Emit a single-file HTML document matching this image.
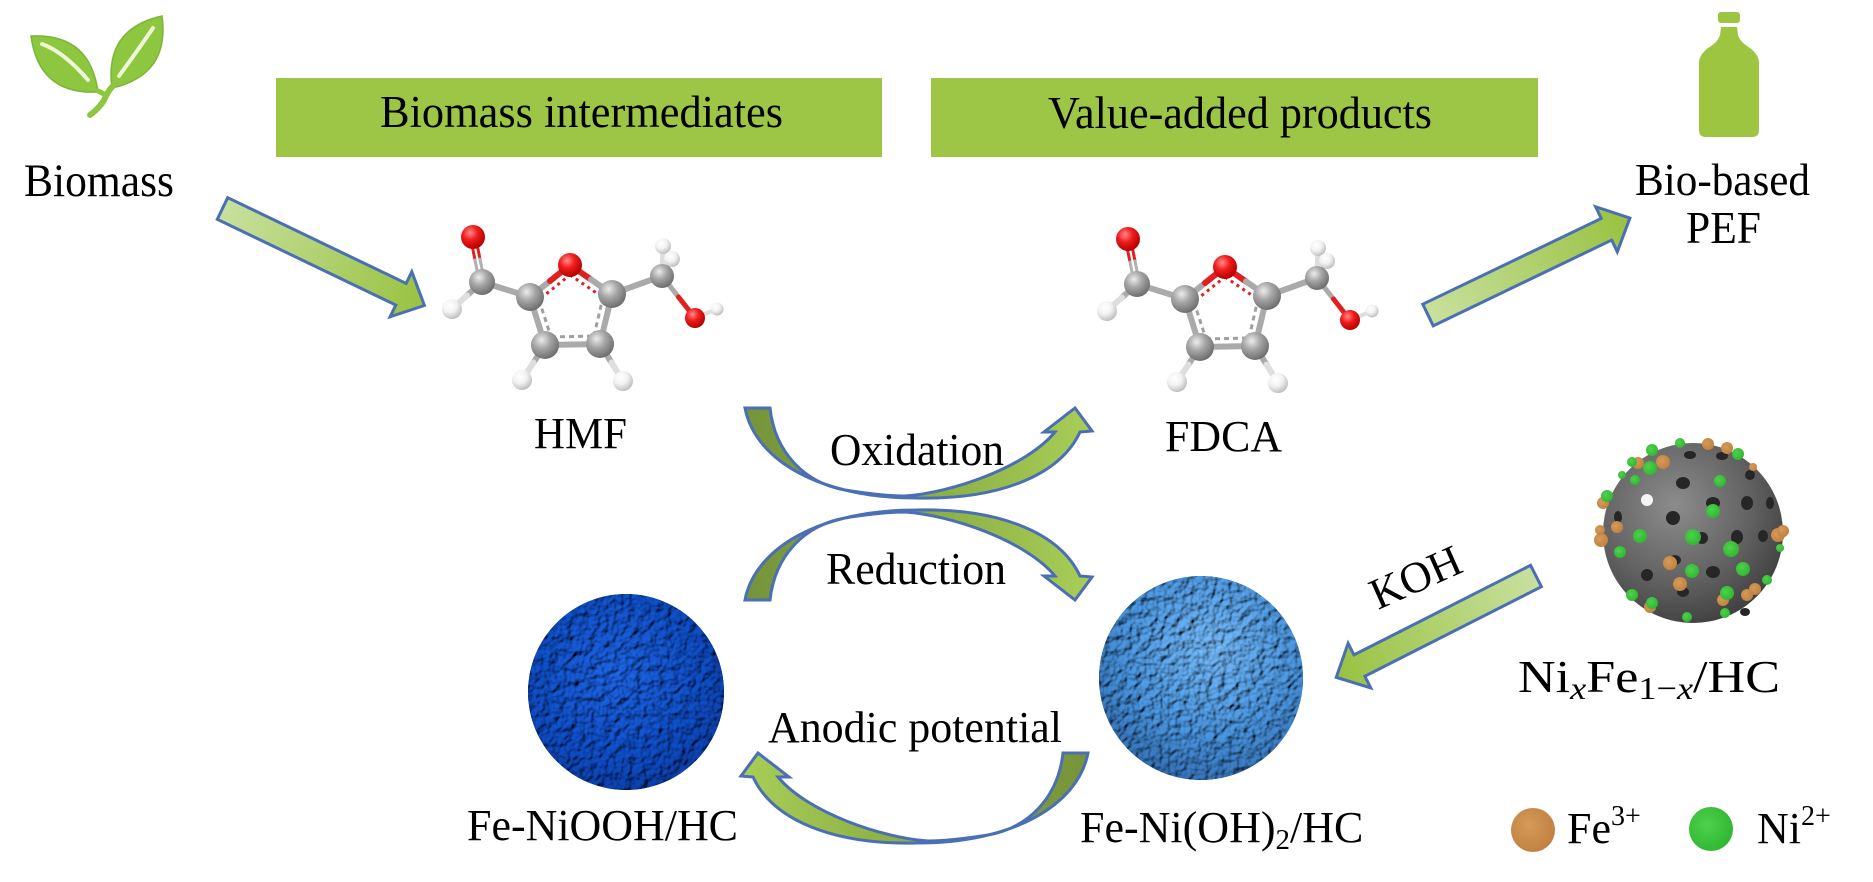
<!DOCTYPE html>
<html>
<head>
<meta charset="utf-8">
<style>
  html, body { margin: 0; padding: 0; background: #ffffff; }
  svg { display: block; }
  text { font-family: "Liberation Serif", "Times New Roman", serif; fill: #000; }
</style>
</head>
<body>
<svg width="1873" height="882" viewBox="0 0 1873 882" xmlns="http://www.w3.org/2000/svg">
  <defs>
    <linearGradient id="gStraight" x1="0" y1="0" x2="1" y2="0">
      <stop offset="0" stop-color="#c8e09e"/>
      <stop offset="1" stop-color="#98c240"/>
    </linearGradient>
    <linearGradient id="gCurve" x1="0" y1="0" x2="1" y2="0">
      <stop offset="0" stop-color="#76933a"/>
      <stop offset="0.45" stop-color="#86a83f"/>
      <stop offset="1" stop-color="#a8ce58"/>
    </linearGradient>
    <radialGradient id="atC" cx="0.38" cy="0.32" r="0.7">
      <stop offset="0" stop-color="#ececec"/>
      <stop offset="0.45" stop-color="#a6a6a6"/>
      <stop offset="1" stop-color="#6c6c6c"/>
    </radialGradient>
    <radialGradient id="atO" cx="0.38" cy="0.32" r="0.7">
      <stop offset="0" stop-color="#ff8a8a"/>
      <stop offset="0.45" stop-color="#f01c1c"/>
      <stop offset="1" stop-color="#b00000"/>
    </radialGradient>
    <radialGradient id="atH" cx="0.38" cy="0.32" r="0.7">
      <stop offset="0" stop-color="#ffffff"/>
      <stop offset="0.5" stop-color="#f2f2f2"/>
      <stop offset="1" stop-color="#bdbdbd"/>
    </radialGradient>
    <radialGradient id="sDark" cx="0.45" cy="0.4" r="0.65">
      <stop offset="0" stop-color="#1a5bd0"/>
      <stop offset="0.7" stop-color="#0c46b4"/>
      <stop offset="1" stop-color="#083696"/>
    </radialGradient>
    <radialGradient id="sLight" cx="0.55" cy="0.35" r="0.7">
      <stop offset="0" stop-color="#6aa9e2"/>
      <stop offset="0.6" stop-color="#4388cc"/>
      <stop offset="1" stop-color="#2c62a0"/>
    </radialGradient>
    <radialGradient id="sGray" cx="0.4" cy="0.35" r="0.7">
      <stop offset="0" stop-color="#8c8c8c"/>
      <stop offset="0.6" stop-color="#626262"/>
      <stop offset="1" stop-color="#3e3e3e"/>
    </radialGradient>
    <radialGradient id="dotFe" cx="0.4" cy="0.4" r="0.65">
      <stop offset="0" stop-color="#d79a58"/>
      <stop offset="1" stop-color="#bf8040"/>
    </radialGradient>
    <radialGradient id="dotNi" cx="0.4" cy="0.4" r="0.65">
      <stop offset="0" stop-color="#4fd24f"/>
      <stop offset="1" stop-color="#2fb52f"/>
    </radialGradient>
    <filter id="bump" x="-5%" y="-5%" width="110%" height="110%">
      <feTurbulence type="fractalNoise" baseFrequency="0.13" numOctaves="2" seed="7" result="noise"/>
      <feDiffuseLighting in="noise" lighting-color="#ffffff" surfaceScale="4" result="light">
        <feDistantLight azimuth="225" elevation="50"/>
      </feDiffuseLighting>
      <feComposite in="light" in2="SourceGraphic" operator="arithmetic" k1="1.3" k2="0" k3="0" k4="0"/>
    </filter>
  </defs>

  <!-- Leaf icon -->
  <g>
    <path d="M98,92 Q90,33 31,36 Q39,95 98,92 Z" fill="#8dc63f" stroke="#7db538" stroke-width="1.5"/>
    <path d="M112,88 Q170,75 162,16 Q104,29 112,88 Z" fill="#8dc63f" stroke="#7db538" stroke-width="1.5"/>
    <path d="M88,80 Q64,52 42,44" fill="none" stroke="#eef7d6" stroke-width="4" stroke-linecap="round"/>
    <path d="M119,76 Q138,50 153,28" fill="none" stroke="#eef7d6" stroke-width="4" stroke-linecap="round"/>
    <path d="M90,115 Q102,106 106,96 Q109,90 112,87" fill="none" stroke="#8dc63f" stroke-width="6" stroke-linecap="round"/>
    <path d="M106,96 Q103,93 98,91" fill="none" stroke="#8dc63f" stroke-width="5" stroke-linecap="round"/>
  </g>

  <!-- Bottle icon -->
  <g fill="#9dc540">
    <rect x="1718" y="12" width="22" height="11" rx="3"/>
    <path d="M1721,27 L1737,27 L1738,35 Q1740,42 1750,48 Q1759,55 1759,63 L1759,130 Q1759,137 1752,137 L1706,137 Q1699,137 1699,130 L1699,63 Q1699,55 1708,48 Q1718,42 1720,35 Z"/>
  </g>

  <!-- Header boxes -->
  <rect x="276" y="78" width="606" height="79" fill="#9ec646"/>
  <rect x="931" y="78" width="607" height="79" fill="#9ec646"/>
  <text x="380" y="127" font-size="45" textLength="403" lengthAdjust="spacingAndGlyphs">Biomass intermediates</text>
  <text x="1048" y="128" font-size="45" textLength="384" lengthAdjust="spacingAndGlyphs">Value-added products</text>

  <!-- Labels -->
  <text x="24" y="196" font-size="47" textLength="150" lengthAdjust="spacingAndGlyphs">Biomass</text>
  <text x="1635" y="195" font-size="45" textLength="175" lengthAdjust="spacingAndGlyphs">Bio-based</text>
  <text x="1686" y="243" font-size="45" textLength="75" lengthAdjust="spacingAndGlyphs">PEF</text>
  <text x="534" y="448" font-size="44" textLength="93" lengthAdjust="spacingAndGlyphs">HMF</text>
  <text x="1165" y="451" font-size="44" textLength="117" lengthAdjust="spacingAndGlyphs">FDCA</text>
  <text x="830" y="465" font-size="45" textLength="174" lengthAdjust="spacingAndGlyphs">Oxidation</text>
  <text x="826" y="584" font-size="45" textLength="180" lengthAdjust="spacingAndGlyphs">Reduction</text>
  <text x="768" y="742" font-size="44" textLength="294" lengthAdjust="spacingAndGlyphs">Anodic potential</text>
  <text x="467" y="840" font-size="44" textLength="271" lengthAdjust="spacingAndGlyphs">Fe-NiOOH/HC</text>
  <text x="1080" y="842" font-size="44">Fe-Ni(OH)<tspan font-size="29" dy="7">2</tspan><tspan dy="-7">/HC</tspan></text>
  <text x="1518" y="692" font-size="46" textLength="262" lengthAdjust="spacingAndGlyphs">Ni<tspan font-size="32" dy="7" font-style="italic">x</tspan><tspan dy="-7">Fe</tspan><tspan font-size="32" dy="7">1−<tspan font-style="italic">x</tspan></tspan><tspan dy="-7">/HC</tspan></text>
  <text x="0" y="0" font-size="44" transform="translate(1378,610) rotate(-24)">KOH</text>

  <!-- Legend -->
  <circle cx="1533" cy="830" r="22" fill="url(#dotFe)"/>
  <text x="1567" y="843" font-size="44">Fe<tspan font-size="28" dy="-18">3+</tspan></text>
  <circle cx="1711" cy="829" r="22" fill="url(#dotNi)"/>
  <text x="1757" y="843" font-size="44">Ni<tspan font-size="28" dy="-18">2+</tspan></text>

  <!-- Straight arrows -->
  <g stroke="#4a6fb5" stroke-width="3" stroke-linejoin="miter" fill="url(#gStraight)">
    <polygon points="0,-12 198,-12 198,-25 224,0 198,25 198,12 0,12" transform="translate(222.5,208.5) rotate(25.66)"/>
    <polygon points="0,-12 198,-12 198,-25 224,0 198,25 198,12 0,12" transform="translate(1428,315) rotate(-25.66)"/>
    <polygon points="0,-12 198,-12 198,-25 224,0 198,25 198,12 0,12" transform="translate(1536,576) rotate(153.1)"/>
  </g>

  <!-- Curved arrows -->
  <g stroke="#4a6fb5" stroke-width="3" fill="url(#gCurve)" stroke-linejoin="miter">
    <path transform="translate(745,408)" d="M0,0 L25,0 C30,45 60,75 100,82 C125,86 145,88 160,88 C205,85 280,60 310,24 L299,24 L330,0 L347,23 L335,24 C315,67 255,92 171,90 C75,90 10,52 0,0 Z"/>
    <path transform="translate(745,600) scale(1,-1)" d="M0,0 L25,0 C30,45 60,75 100,82 C125,86 145,88 160,88 C205,85 280,60 310,24 L299,24 L330,0 L347,23 L335,24 C315,67 255,92 171,90 C75,90 10,52 0,0 Z"/>
    <path transform="translate(1088,753) scale(-1,1)" d="M0,0 L25,0 C30,45 60,75 100,82 C125,86 145,88 160,88 C205,85 280,60 310,24 L299,24 L330,0 L347,23 L335,24 C315,67 255,92 171,90 C75,90 10,52 0,0 Z"/>
  </g>

  <!-- Molecule (HMF) -->
  <g id="mol">
    <g stroke-linecap="round" fill="none">
      <line x1="470.5" y1="237.5" x2="475" y2="260" stroke="#e02020" stroke-width="3"/>
      <line x1="475" y1="260" x2="479.5" y2="282.5" stroke="#b0b0b0" stroke-width="3"/>
      <line x1="475.5" y1="236.5" x2="480" y2="259" stroke="#e02020" stroke-width="3"/>
      <line x1="480" y1="259" x2="484.5" y2="281.5" stroke="#b0b0b0" stroke-width="3"/>
      <line x1="482" y1="282" x2="467" y2="295.5" stroke="#aaaaaa" stroke-width="6"/>
      <line x1="467" y1="295.5" x2="452" y2="309" stroke="#dedede" stroke-width="6"/>
      <line x1="482" y1="282" x2="530" y2="297" stroke="#aaaaaa" stroke-width="6"/>
      <line x1="530" y1="297" x2="550" y2="281" stroke="#aaaaaa" stroke-width="6"/>
      <line x1="550" y1="281" x2="570" y2="265" stroke="#e02020" stroke-width="6"/>
      <line x1="570" y1="265" x2="591" y2="279.5" stroke="#e02020" stroke-width="6"/>
      <line x1="591" y1="279.5" x2="612" y2="294" stroke="#aaaaaa" stroke-width="6"/>
      <line x1="530" y1="297" x2="545" y2="345" stroke="#aaaaaa" stroke-width="6"/>
      <line x1="545" y1="345" x2="600" y2="344" stroke="#aaaaaa" stroke-width="6"/>
      <line x1="600" y1="344" x2="612" y2="294" stroke="#aaaaaa" stroke-width="6"/>
      <line x1="545" y1="345" x2="533.5" y2="362.5" stroke="#aaaaaa" stroke-width="6"/>
      <line x1="533.5" y1="362.5" x2="522" y2="380" stroke="#dedede" stroke-width="6"/>
      <line x1="600" y1="344" x2="611.5" y2="362.5" stroke="#aaaaaa" stroke-width="6"/>
      <line x1="611.5" y1="362.5" x2="623" y2="381" stroke="#dedede" stroke-width="6"/>
      <line x1="612" y1="294" x2="662" y2="276" stroke="#aaaaaa" stroke-width="6"/>
      <line x1="662" y1="276" x2="663" y2="246" stroke="#dedede" stroke-width="5"/>
      <line x1="662" y1="276" x2="672" y2="259" stroke="#dedede" stroke-width="5"/>
      <line x1="662" y1="276" x2="678.5" y2="297" stroke="#aaaaaa" stroke-width="5"/>
      <line x1="678.5" y1="297" x2="695" y2="318" stroke="#e02020" stroke-width="5"/>
      <line x1="695" y1="318" x2="717" y2="309" stroke="#dedede" stroke-width="4"/>
      <line x1="539" y1="300" x2="551" y2="337" stroke="#a0a0a0" stroke-width="3" stroke-dasharray="5 4" stroke-linecap="butt"/>
      <line x1="551" y1="337" x2="594" y2="336" stroke="#a0a0a0" stroke-width="3" stroke-dasharray="5 4" stroke-linecap="butt"/>
      <line x1="594" y1="336" x2="603" y2="297" stroke="#a0a0a0" stroke-width="3" stroke-dasharray="5 4" stroke-linecap="butt"/>
      <line x1="541" y1="298" x2="570" y2="275" stroke="#e02020" stroke-width="3" stroke-dasharray="3 4" stroke-linecap="butt"/>
      <line x1="570" y1="275" x2="601" y2="296" stroke="#e02020" stroke-width="3" stroke-dasharray="3 4" stroke-linecap="butt"/>
    </g>
    <circle cx="663" cy="246" r="8" fill="url(#atH)"/>
    <circle cx="672" cy="259" r="8" fill="url(#atH)"/>
    <circle cx="662" cy="276" r="12" fill="url(#atC)"/>
    <circle cx="695" cy="318" r="10" fill="url(#atO)"/>
    <circle cx="717" cy="309" r="6.5" fill="url(#atH)"/>
    <circle cx="473" cy="237" r="12" fill="url(#atO)"/>
    <circle cx="482" cy="282" r="13" fill="url(#atC)"/>
    <circle cx="452" cy="309" r="10" fill="url(#atH)"/>
    <circle cx="570" cy="265" r="12" fill="url(#atO)"/>
    <circle cx="530" cy="297" r="14" fill="url(#atC)"/>
    <circle cx="612" cy="294" r="14" fill="url(#atC)"/>
    <circle cx="522" cy="380" r="10" fill="url(#atH)"/>
    <circle cx="623" cy="381" r="10" fill="url(#atH)"/>
    <circle cx="545" cy="345" r="14" fill="url(#atC)"/>
    <circle cx="600" cy="344" r="14" fill="url(#atC)"/>
  </g>
  <!-- Molecule (FDCA) -->
  <use href="#mol" transform="translate(655,2)"/>

  <!-- Dark blue sphere: Fe-NiOOH/HC -->
  <circle cx="626" cy="692" r="98" fill="url(#sDark)" filter="url(#bump)"/>
  <!-- Light blue sphere: Fe-Ni(OH)2/HC -->
  <circle cx="1201" cy="678" r="102" fill="url(#sLight)" filter="url(#bump)"/>

  <!-- Gray porous sphere: NixFe1-x/HC -->
  <g>
    <circle cx="1693" cy="533" r="90" fill="url(#sGray)"/>
    <g fill="#262626">
      <ellipse cx="1690" cy="455" rx="6" ry="4"/>
      <ellipse cx="1722" cy="456" rx="6" ry="4"/>
      <ellipse cx="1683" cy="483" rx="7" ry="6"/>
      <ellipse cx="1673" cy="518" rx="7" ry="7"/>
      <ellipse cx="1713" cy="503" rx="7" ry="6"/>
      <ellipse cx="1747" cy="503" rx="6" ry="7"/>
      <ellipse cx="1770" cy="503" rx="4" ry="6"/>
      <ellipse cx="1750" cy="475" rx="5" ry="5"/>
      <ellipse cx="1737" cy="537" rx="6" ry="7"/>
      <ellipse cx="1763" cy="536" rx="5" ry="6"/>
      <ellipse cx="1713" cy="572" rx="7" ry="6"/>
      <ellipse cx="1647" cy="575" rx="6" ry="6"/>
      <ellipse cx="1683" cy="592" rx="6" ry="5"/>
      <ellipse cx="1618" cy="517" rx="4" ry="6"/>
      <ellipse cx="1675" cy="560" rx="6" ry="5"/>
      <ellipse cx="1702" cy="538" rx="6" ry="6"/>
      <ellipse cx="1745" cy="612" rx="5" ry="4"/>
    </g>
    <ellipse cx="1647" cy="500" rx="6" ry="6" fill="#f4f4f4"/>
    <g fill="url(#dotFe)">
      <circle cx="1663" cy="462" r="7"/>
      <circle cx="1638" cy="463" r="6"/>
      <circle cx="1708" cy="444" r="6"/>
      <circle cx="1727" cy="448" r="6"/>
      <circle cx="1603" cy="503" r="6"/>
      <circle cx="1617" cy="527" r="6"/>
      <circle cx="1601" cy="540" r="7"/>
      <circle cx="1600" cy="530" r="5"/>
      <circle cx="1778" cy="535" r="7"/>
      <circle cx="1783" cy="531" r="6"/>
      <circle cx="1670" cy="563" r="7"/>
      <circle cx="1680" cy="584" r="7"/>
      <circle cx="1755" cy="589" r="6"/>
      <circle cx="1747" cy="595" r="6"/>
      <circle cx="1723" cy="600" r="6"/>
      <circle cx="1650" cy="607" r="6"/>
      <circle cx="1753" cy="467" r="4"/>
    </g>
    <g fill="url(#dotNi)">
      <circle cx="1652" cy="450" r="6"/>
      <circle cx="1680" cy="443" r="5"/>
      <circle cx="1738" cy="454" r="6"/>
      <circle cx="1650" cy="468" r="7"/>
      <circle cx="1635" cy="480" r="5"/>
      <circle cx="1632" cy="462" r="5"/>
      <circle cx="1622" cy="475" r="4"/>
      <circle cx="1720" cy="481" r="6"/>
      <circle cx="1607" cy="496" r="6"/>
      <circle cx="1713" cy="511" r="7"/>
      <circle cx="1640" cy="536" r="7"/>
      <circle cx="1693" cy="537" r="8"/>
      <circle cx="1731" cy="549" r="8"/>
      <circle cx="1620" cy="552" r="6"/>
      <circle cx="1692" cy="571" r="7"/>
      <circle cx="1743" cy="569" r="7"/>
      <circle cx="1727" cy="593" r="7"/>
      <circle cx="1652" cy="603" r="6"/>
      <circle cx="1632" cy="595" r="6"/>
      <circle cx="1780" cy="548" r="4"/>
      <circle cx="1767" cy="580" r="5"/>
      <circle cx="1687" cy="617" r="5"/>
      <circle cx="1725" cy="613" r="5"/>
    </g>
  </g>
</svg>
</body>
</html>
